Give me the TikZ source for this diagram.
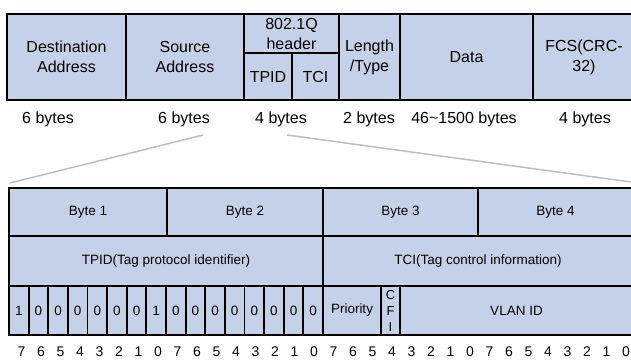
\documentclass[tikz,border=0pt]{standalone}
\usepackage{fontspec}
\setmainfont{Liberation Sans}
\definecolor{cellblue}{RGB}{197,209,232}
\definecolor{zoomgray}{RGB}{190,190,190}
\begin{document}
\begin{tikzpicture}[x=1pt,y=-1pt,
  bigcell/.style={draw=black, fill=cellblue, line width=2.2pt, inner sep=0pt, align=center,
    font=\fontsize{16}{20}\selectfont},
  cell/.style={draw=black, fill=cellblue, line width=1.8pt, inner sep=0pt, align=center,
    font=\fontsize{13.5}{16}\selectfont},
  sizelbl/.style={font=\fontsize{16}{20}\selectfont, inner sep=0pt},
  bitlbl/.style={font=\fontsize{14}{16}\selectfont, inner sep=0pt},
  zoomline/.style={draw=zoomgray, line width=1.5pt}]
\useasboundingbox (0,0) rectangle (631,359);
% ---- upper frame ----
\node[bigcell, minimum width=119pt, minimum height=86pt] (dst) at (66.5,57) {Destination\\Address};
\node[bigcell, minimum width=118pt, minimum height=86pt] (src) at (185,57) {Source\\Address};
\node[bigcell, minimum width=95pt, minimum height=39pt] (hdr) at (291.5,33.5) {802.1Q\\header};
\node[bigcell, minimum width=48pt, minimum height=47pt] (tpid) at (268,76.5) {TPID};
\node[bigcell, minimum width=47pt, minimum height=47pt] (tci) at (315.5,76.5) {TCI};
\node[bigcell, minimum width=61pt, minimum height=86pt] (len) at (369.5,57) {Length\\/Type};
\node[bigcell, minimum width=133pt, minimum height=86pt] (data) at (466.5,57) {Data};
\node[bigcell, minimum width=102pt, minimum height=86pt, text width=98pt] (fcs) at (584,57) {FCS(CRC-\\32)\hspace*{2pt}};
% ---- sizes ----
\node[sizelbl] (s1) at (48,119) {6 bytes};
\node[sizelbl] (s2) at (184,119) {6 bytes};
\node[sizelbl] (s3) at (281,119) {4 bytes};
\node[sizelbl] (s4) at (369,119) {2 bytes};
\node[sizelbl] (s5) at (464,119) {46\textasciitilde 1500 bytes};
\node[sizelbl] (s6) at (585,119) {4 bytes};
% ---- zoom lines ----
\coordinate (zl1) at (203,135);
\coordinate (zl2) at (10,183);
\coordinate (zr1) at (287,135);
\coordinate (zr2) at (631,182);
\draw[zoomline] (zl1) -- (zl2);
\draw[zoomline] (zr1) -- (zr2);
% ---- lower table ----
\node[cell, minimum width=158pt, minimum height=48pt] (b1) at (88,212) {Byte 1};
\node[cell, minimum width=156pt, minimum height=48pt] (b2) at (245,212) {Byte 2};
\node[cell, minimum width=155pt, minimum height=48pt] (b3) at (400.5,212) {Byte 3};
\node[cell, minimum width=155pt, minimum height=48pt] (b4) at (555.5,212) {Byte 4};
\node[cell, minimum width=314pt, minimum height=50pt] (tpidrow) at (166,261) {TPID(Tag protocol identifier)};
\node[cell, minimum width=310pt, minimum height=50pt] (tcirow) at (478,261) {TCI(Tag control information)};
\foreach \v [count=\i from 0] in {1,0,0,0,0,0,0,1,0,0,0,0,0,0,0,0}{
  \node[cell, minimum width=19.625pt, minimum height=49pt] (bit\i) at ({9+(\i+0.5)*19.625},310.5) {\v};
}
\node[cell, minimum width=58pt, minimum height=49pt] (prio) at (352,310.5) {Priority};
\node[cell, minimum width=19pt, minimum height=49pt, font=\fontsize{13}{16}\selectfont] (cfi) at (390.5,310.5) {C\\F\\I};
\node[cell, minimum width=233pt, minimum height=49pt] (vlan) at (516.5,310.5) {VLAN ID};
% ---- bit numbers ----
\foreach \b [count=\i from 0] in {7,6,5,4,3,2,1,0,7,6,5,4,3,2,1,0,7,6,5,4,3,2,1,0,7,6,5,4,3,2,1,0}{
  \node[bitlbl] (n\i) at ({21.5+\i*19.5},351.5) {\b};
}
\end{tikzpicture}
\end{document}
